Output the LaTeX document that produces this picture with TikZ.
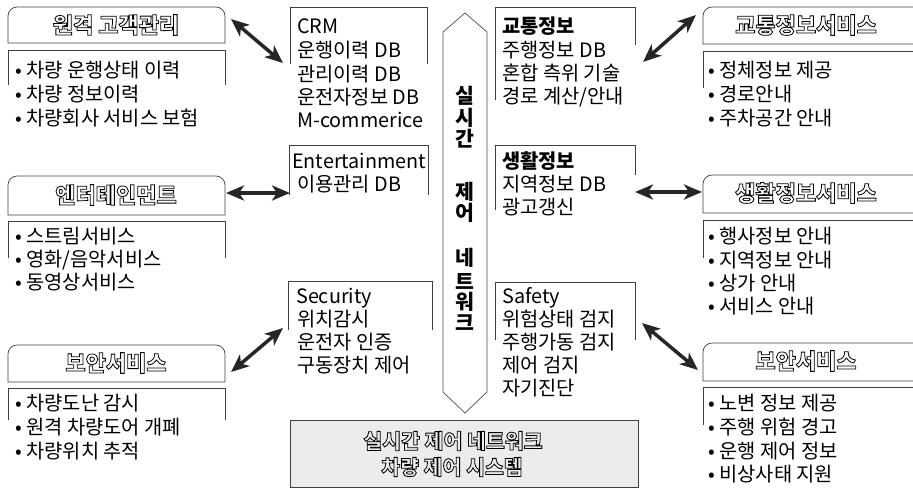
\documentclass[tikz,border=0pt]{standalone}
\usepackage{fontspec}
\setmainfont{Noto Sans CJK KR}
\usetikzlibrary{arrows.meta}
\newcommand{\hollowtxt}[1]{\special{pdf:literal direct 1 Tr 0.8 w}#1\special{pdf:literal direct 0 Tr}}
\begin{document}
\begin{tikzpicture}[x=1pt,y=-1pt,
  frame/.style={draw=black!75, line width=0.7pt},
  ttl/.style={font=\fontsize{22}{26}\selectfont\bfseries, inner sep=0pt},
  itm/.style={anchor=west, font=\fontsize{19.8}{24}\selectfont, inner sep=0pt, text height=15pt, text depth=3.5pt},
  bitm/.style={itm, font=\fontsize{19.8}{24}\selectfont\bfseries},
  vch/.style={font=\fontsize{20.5}{24}\selectfont\bfseries, inner sep=0pt},
  dbl/.style={line width=3.5pt, black!85,
    {Stealth[length=18pt,width=15pt,inset=5pt,fill=gray!55]}-{Stealth[length=18pt,width=15pt,inset=5pt,fill=gray!55]}}
]
\useasboundingbox (0,0) rectangle (913,493);

% ---------- left service boxes ----------
\draw[frame] (8,43) [rounded corners=9pt] -- (8,7) -- (225,7) [sharp corners] -- (225,43) -- cycle;
\node[ttl] (lt1) at (116,25) {\hollowtxt{원격 고객관리}};
\draw[frame] (8,85) -- (8,50) -- (225,50) -- (225,85);
\foreach \t [count=\i] in {차량 운행상태 이력, 차량 정보이력, 차량회사 서비스 보험}
  \node[itm] (la\i) at (15,{72+24*(\i-1)}) {• \t};

\draw[frame] (8,215) [rounded corners=9pt] -- (8,176) -- (225,176) [sharp corners] -- (225,215) -- cycle;
\node[ttl] (lt2) at (116,195) {\hollowtxt{엔터테인먼트}};
\draw[frame] (8,258) -- (8,221) -- (225,221) -- (225,258);
\foreach \t [count=\i] in {스트림서비스, 영화/음악서비스, 동영상서비스}
  \node[itm] (lb\i) at (15,{238+23*(\i-1)}) {• \t};

\draw[frame] (8,382) [rounded corners=9pt] -- (8,345) -- (225,345) [sharp corners] -- (225,382) -- cycle;
\node[ttl] (lt3) at (116,363) {\hollowtxt{보안서비스}};
\draw[frame] (8,420) -- (8,388) -- (225,388) -- (225,420);
\foreach \t [count=\i] in {차량도난 감시, 원격 차량도어 개폐, 차량위치 추적}
  \node[itm] (lc\i) at (15,{405+24*(\i-1)}) {• \t};

% ---------- right service boxes ----------
\draw[frame] (703,44) [rounded corners=9pt] -- (703,7) -- (930,7) [sharp corners] -- (930,44) -- cycle;
\node[ttl] (rt1) at (806,25) {\hollowtxt{교통정보서비스}};
\draw[frame] (703,88) -- (703,51) -- (930,51);
\foreach \t [count=\i] in {정체정보 제공, 경로안내, 주차공간 안내}
  \node[itm] (ra\i) at (708,{72+24*(\i-1)}) {• \t};

\draw[frame] (703,213) [rounded corners=9pt] -- (703,175) -- (930,175) [sharp corners] -- (930,213) -- cycle;
\node[ttl] (rt2) at (806,193) {\hollowtxt{생활정보서비스}};
\draw[frame] (703,258) -- (703,220) -- (930,220);
\foreach \t [count=\i] in {행사정보 안내, 지역정보 안내, 상가 안내, 서비스 안내}
  \node[itm] (rb\i) at (708,{238+23.3*(\i-1)}) {• \t};

\draw[frame] (703,381) [rounded corners=9pt] -- (703,343) -- (930,343) [sharp corners] -- (930,381) -- cycle;
\node[ttl] (rt3) at (806,361) {\hollowtxt{보안서비스}};
\draw[frame] (703,425) -- (703,387) -- (930,387);
\foreach \t [count=\i] in {노변 정보 제공, 주행 위험 경고, 운행 제어 정보, 비상사태 지원}
  \node[itm] (rc\i) at (708,{405+23.7*(\i-1)}) {• \t};

% ---------- centre left column ----------
\draw[frame] (290,64) -- (290,7) -- (427,7) -- (427,64);
\node[itm] (crm1) at (297,28) {CRM};
\foreach \t [count=\i] in {운행이력 DB, 관리이력 DB, 운전자정보 DB, M-commerice}
  \node[itm] (crm\i x) at (297,{52+23.4*(\i-1)}) {\t};

\draw[frame] (289,195) -- (289,145) -- (428,145) -- (428,195);
\node[itm] (ent1) at (292,163) {Entertainment};
\node[itm] (ent2) at (297,186) {이용관리 DB};

\draw[frame] (288,330) -- (288,281) -- (432,281) -- (432,330);
\node[itm] (sec1) at (296,298) {Security};
\foreach \t [count=\i] in {위치감시, 운전자 인증, 구동장치 제어}
  \node[itm] (sec\i x) at (297,{321+23*(\i-1)}) {\t};

% ---------- centre right column ----------
\draw[frame] (495,100) -- (495,7) -- (635,7) -- (635,45);
\node[bitm] (trf1) at (502,28) {교통정보};
\foreach \t [count=\i] in {주행정보 DB, 혼합 측위 기술, 경로 계산/안내}
  \node[itm] (trf\i x) at (502,{52+23*(\i-1)}) {\t};

\draw[frame] (495,210) -- (495,145) -- (635,145) -- (635,175);
\node[bitm] (liv1) at (502,163) {생활정보};
\foreach \t [count=\i] in {지역정보 DB, 광고갱신}
  \node[itm] (liv\i x) at (502,{186+23*(\i-1)}) {\t};

\draw[frame] (495,340) -- (495,282) -- (635,282) -- (635,340);
\node[itm] (saf1) at (502,298) {Safety};
\foreach \t [count=\i] in {위험상태 검지, 주행가동 검지, 제어 검지, 자기진단}
  \node[itm] (saf\i x) at (502,{321+23*(\i-1)}) {\t};

% ---------- central network arrow ----------
\draw[draw=black!70, line width=0.7pt] (443,32) -- (465,13) -- (487,32) -- (487,392) -- (465,413) -- (443,392) -- cycle;
\foreach \c/\y [count=\i] in {실/96, 시/118, 간/139, 제/192, 어/213, 네/258, 트/281, 워/302, 크/323}
  \node[vch] (v\i) at (465,\y) {\c};

% ---------- bottom system box ----------
\draw[frame, fill=gray!15] (290,420) rectangle (638,487);
\node[ttl, font=\fontsize{20.5}{24}\selectfont\bfseries] (sys1) at (453,441) {\hollowtxt{실시간 제어 네트워크}};
\node[ttl, font=\fontsize{20.5}{24}\selectfont\bfseries] (sys2) at (452,467) {\hollowtxt{차량 제어 시스템}};

% ---------- double arrows ----------
\coordinate (a1s) at (231,19);  \coordinate (a1e) at (283,63);
\coordinate (a2s) at (226,193); \coordinate (a2e) at (290,193);
\coordinate (a3s) at (231,372); \coordinate (a3e) at (283,328);
\coordinate (b1s) at (643,62);  \coordinate (b1e) at (696,15);
\coordinate (b2s) at (635,192); \coordinate (b2e) at (702,192);
\coordinate (b3s) at (642,323); \coordinate (b3e) at (698,370);
\draw[dbl] (a1s) -- (a1e);
\draw[dbl] (a2s) -- (a2e);
\draw[dbl] (a3s) -- (a3e);
\draw[dbl] (b1s) -- (b1e);
\draw[dbl] (b2s) -- (b2e);
\draw[dbl] (b3s) -- (b3e);
\end{tikzpicture}
\end{document}
